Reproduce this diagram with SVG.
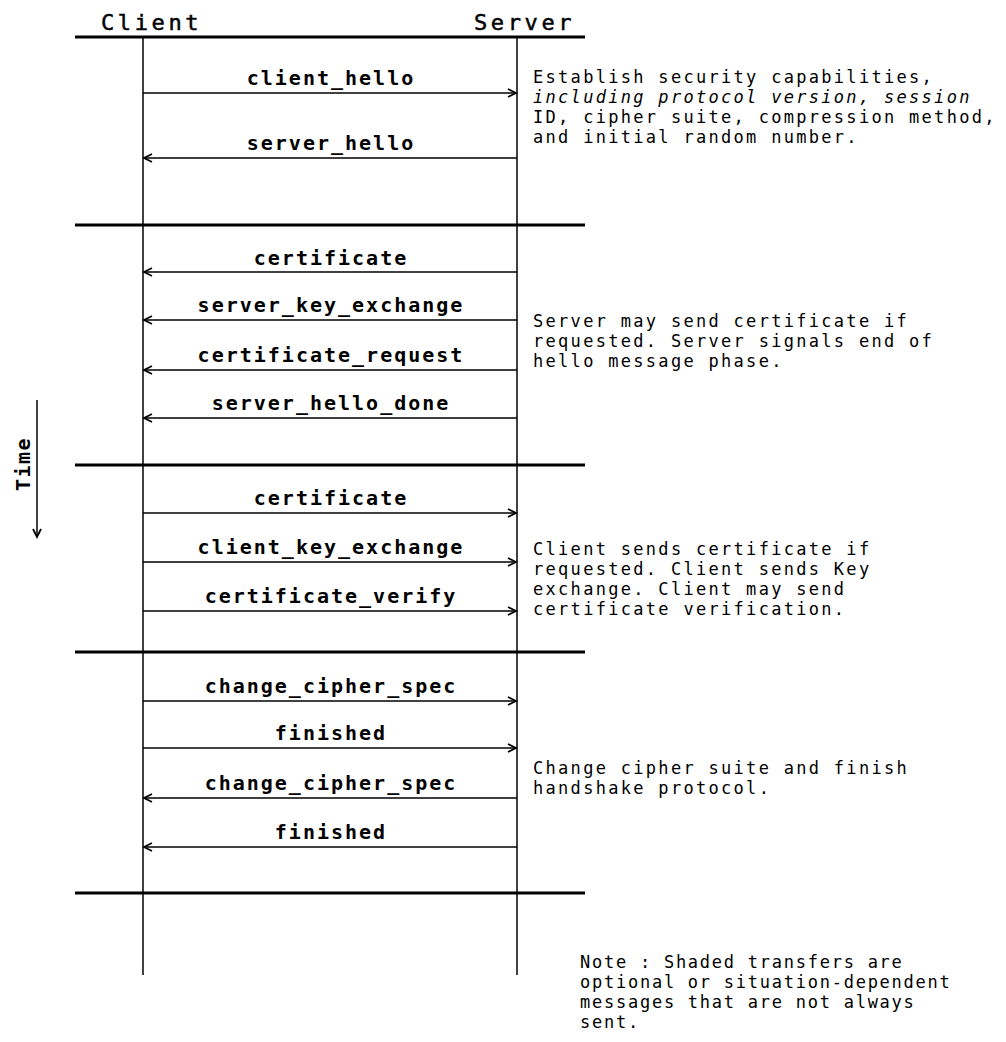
<svg xmlns="http://www.w3.org/2000/svg" width="1006" height="1042" viewBox="0 0 1006 1042">
<style>
.bg{fill:#fff}
.thick{stroke:#000;stroke-width:3;fill:none}
.life{stroke:#000;stroke-width:1.5;fill:none}
.msg{stroke:#000;stroke-width:1.5;fill:none}
.lbl{font-family:"DejaVu Sans Mono","Liberation Mono",monospace;font-weight:bold;font-size:20px;letter-spacing:2px;fill:#000;text-anchor:middle}
.hdr{font-family:"DejaVu Sans Mono","Liberation Mono",monospace;font-size:22px;letter-spacing:3.6px;fill:#000;stroke:#000;stroke-width:0.5}
.note{font-family:"DejaVu Sans Mono","Liberation Mono",monospace;font-size:17px;letter-spacing:2.3px;fill:#000}
.fn{letter-spacing:1.75px}
.it{font-style:italic}
</style>
<defs>
<marker id="ah" markerUnits="userSpaceOnUse" markerWidth="12" markerHeight="12" refX="9" refY="5" orient="auto">
<path d="M1,1 L9,5 L1,9" fill="none" stroke="#000" stroke-width="1.8"/>
</marker>
</defs>
<rect class="bg" x="0" y="0" width="1006" height="1042"/>

<g id="frame">
<line class="thick" x1="75" y1="37" x2="585" y2="37"/>
<line class="thick" x1="75" y1="225" x2="585" y2="225"/>
<line class="thick" x1="75" y1="465" x2="585" y2="465"/>
<line class="thick" x1="75" y1="652" x2="585" y2="652"/>
<line class="thick" x1="75" y1="893" x2="585" y2="893"/>
</g>

<g id="client">
<text class="hdr" x="101" y="30">Client</text>
<line class="life" x1="143" y1="37" x2="143" y2="975"/>
</g>
<g id="server">
<text class="hdr" x="474" y="30">Server</text>
<line class="life" x1="517" y1="37" x2="517" y2="975"/>
</g>

<g id="time">
<line class="life" x1="37" y1="400" x2="37" y2="537" marker-end="url(#ah)"/>
<text class="lbl" style="letter-spacing:1.5px" transform="translate(30,464) rotate(-90)">Time</text>
</g>

<g id="connectors">
<line class="msg" x1="143" y1="93" x2="516" y2="93" marker-end="url(#ah)"/>
<line class="msg" x1="517" y1="158" x2="144" y2="158" marker-end="url(#ah)"/>
<line class="msg" x1="517" y1="272" x2="144" y2="272" marker-end="url(#ah)"/>
<line class="msg" x1="517" y1="320" x2="144" y2="320" marker-end="url(#ah)"/>
<line class="msg" x1="517" y1="370" x2="144" y2="370" marker-end="url(#ah)"/>
<line class="msg" x1="517" y1="418" x2="144" y2="418" marker-end="url(#ah)"/>
<line class="msg" x1="143" y1="513" x2="516" y2="513" marker-end="url(#ah)"/>
<line class="msg" x1="143" y1="562" x2="516" y2="562" marker-end="url(#ah)"/>
<line class="msg" x1="143" y1="611" x2="516" y2="611" marker-end="url(#ah)"/>
<line class="msg" x1="143" y1="701" x2="516" y2="701" marker-end="url(#ah)"/>
<line class="msg" x1="143" y1="748" x2="516" y2="748" marker-end="url(#ah)"/>
<line class="msg" x1="517" y1="798" x2="144" y2="798" marker-end="url(#ah)"/>
<line class="msg" x1="517" y1="847" x2="144" y2="847" marker-end="url(#ah)"/>
</g>

<g id="labels">
<text class="lbl" x="331" y="85">client_hello</text>
<text class="lbl" x="331" y="150">server_hello</text>
<text class="lbl" x="331" y="265">certificate</text>
<text class="lbl" x="331" y="312">server_key_exchange</text>
<text class="lbl" x="331" y="362">certificate_request</text>
<text class="lbl" x="331" y="410">server_hello_done</text>
<text class="lbl" x="331" y="505">certificate</text>
<text class="lbl" x="331" y="554">client_key_exchange</text>
<text class="lbl" x="331" y="603">certificate_verify</text>
<text class="lbl" x="331" y="693">change_cipher_spec</text>
<text class="lbl" x="331" y="740">finished</text>
<text class="lbl" x="331" y="790">change_cipher_spec</text>
<text class="lbl" x="331" y="839">finished</text>
</g>

<g id="phase1">
<text class="note" x="533" y="83">Establish security capabilities,</text>
<text class="note it" x="533" y="103">including protocol version, session</text>
<text class="note" x="533" y="123">ID, cipher suite, compression method,</text>
<text class="note" x="533" y="143">and initial random number.</text>
</g>
<g id="phase2">
<text class="note" x="533" y="327">Server may send certificate if</text>
<text class="note" x="533" y="347">requested. Server signals end of</text>
<text class="note" x="533" y="367">hello message phase.</text>
</g>
<g id="phase3">
<text class="note" x="533" y="555">Client sends certificate if</text>
<text class="note" x="533" y="575">requested. Client sends Key</text>
<text class="note" x="533" y="595">exchange. Client may send</text>
<text class="note" x="533" y="615">certificate verification.</text>
</g>
<g id="phase4">
<text class="note" x="533" y="774">Change cipher suite and finish</text>
<text class="note" x="533" y="794">handshake protocol.</text>
</g>
<g id="footnote">
<text class="note fn" x="580" y="968">Note : Shaded transfers are</text>
<text class="note fn" x="580" y="988">optional or situation-dependent</text>
<text class="note fn" x="580" y="1008">messages that are not always</text>
<text class="note fn" x="580" y="1028">sent.</text>
</g>
</svg>
